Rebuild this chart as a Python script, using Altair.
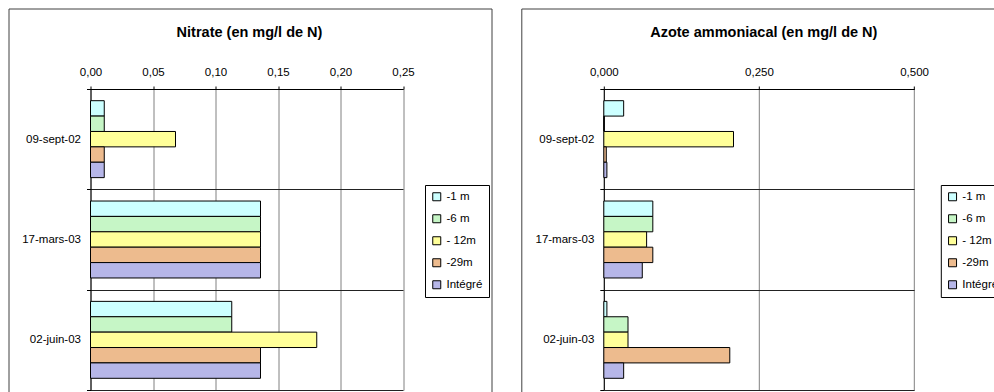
import altair as alt
import pandas as pd

FONT = "Liberation Sans"

# Sampling dates (categories) and depths (series)
dates = ["09-sept-02", "17-mars-03", "02-juin-03"]
depths = ["-1 m", "-6 m", "- 12m", "-29m", "Intégré"]
fills = ["#CCFFFF", "#C6F6C6", "#FFFF99", "#EDBB8E", "#B6B6E8"]

# Nitrate (mg/l de N), one list per depth, in date order
nitrate_1m = [0.011, 0.136, 0.113]
nitrate_6m = [0.011, 0.136, 0.113]
nitrate_12m = [0.068, 0.136, 0.181]
nitrate_29m = [0.011, 0.136, 0.136]
nitrate_int = [0.011, 0.136, 0.136]

# Azote ammoniacal (mg/l de N)
ammo_1m = [0.032, 0.079, 0.005]
ammo_6m = [0.0, 0.079, 0.039]
ammo_12m = [0.209, 0.069, 0.039]
ammo_29m = [0.004, 0.079, 0.203]
ammo_int = [0.005, 0.062, 0.032]

nitrate_ticks = [0, 0.05, 0.10, 0.15, 0.20, 0.25]
ammo_ticks = [0, 0.25, 0.5]


def to_frame(series):
    rows = []
    for depth, vals in zip(depths, series):
        for d, v in zip(dates, vals):
            rows.append({"date": d, "depth": depth, "value": v})
    return pd.DataFrame(rows)


nitrate_df = to_frame([nitrate_1m, nitrate_6m, nitrate_12m, nitrate_29m, nitrate_int])
ammo_df = to_frame([ammo_1m, ammo_6m, ammo_12m, ammo_29m, ammo_int])

PLOT_H = 301
LABEL_SIZE = 11.5
PAGE_W, PAGE_H = 994, 392
# origin of the first plot area on the page
PAD_LEFT, PAD_TOP = 90.5, 89


def panel(df, title, x_max, ticks, decimals, width, frame_left, title_x, legend_x):
    label_expr = f"replace(format(datum.value, '.{decimals}f'), '.', ',')"

    bars = alt.Chart(df).mark_bar(stroke="black", strokeWidth=1).encode(
        x=alt.X(
            "value:Q",
            scale=alt.Scale(domain=[0, x_max], nice=False, zero=True),
            axis=alt.Axis(
                orient="top", values=ticks, labelExpr=label_expr, title=None,
                grid=True, gridColor="#808080", gridWidth=1,
                domainColor="black", tickColor="black", tickSize=3,
                labelPadding=9, labelFontSize=LABEL_SIZE, labelFont=FONT,
                labelColor="black", labelFlush=False, labelOverlap=False,
            ),
        ),
        y=alt.Y(
            "date:N",
            scale=alt.Scale(domain=dates, paddingInner=0, paddingOuter=0),
            axis=alt.Axis(
                title=None, tickBand="extent", grid=True, gridColor="#222222",
                domainColor="black", tickColor="black", tickSize=4,
                labelPadding=6, labelFontSize=LABEL_SIZE, labelFont=FONT,
                labelColor="black",
            ),
        ),
        yOffset=alt.YOffset(
            "depth:N",
            scale=alt.Scale(domain=depths, paddingInner=0, paddingOuter=0.76),
        ),
        color=alt.Color(
            "depth:N",
            scale=alt.Scale(domain=depths, range=fills),
            legend=alt.Legend(
                title=None, orient="none", legendX=legend_x, legendY=96,
                direction="vertical",
                symbolType="square", symbolSize=64, symbolStrokeColor="black",
                symbolStrokeWidth=1, symbolOpacity=1,
                labelFont=FONT, labelFontSize=LABEL_SIZE, labelColor="black",
                labelOffset=4, rowPadding=9, padding=6,
                strokeColor="black", fillColor="white",
                labelExpr="datum.label == '-29m' ? '\u00a0-29m' : datum.label",
            ),
        ),
    )

    frame = alt.Chart(pd.DataFrame({"f": [0]})).mark_rect(
        fillOpacity=0, stroke="#404040", strokeWidth=1
    ).encode(
        x=alt.value(frame_left), x2=alt.value(frame_left + 483),
        y=alt.value(-80), y2=alt.value(315),
    )

    heading = alt.Chart(pd.DataFrame({"t": [title]})).mark_text(
        font=FONT, fontSize=14.5, fontWeight="bold", align="center",
        baseline="alphabetic", color="black",
    ).encode(text="t:N", x=alt.value(title_x), y=alt.value(-52.5))

    return alt.layer(frame, bars, heading).properties(width=width, height=PLOT_H)


left = panel(nitrate_df, "Nitrate (en mg/l de N)", 0.25, nitrate_ticks, 2,
             312.5, -81.5, 159, 334.5)
right = panel(ammo_df, "Azote ammoniacal (en mg/l de N)", 0.5, ammo_ticks, 3,
              310.3, -82, 160, 337)

# Fixed page-sized canvas: anything running past the right/bottom edge is cut
chart = alt.hconcat(left, right, spacing=28.3).resolve_scale(
    x="independent", y="independent", color="independent", yOffset="independent"
).resolve_legend(color="independent").properties(
    autosize=alt.AutoSizeParams(type="none"),
    padding={"left": PAD_LEFT, "top": PAD_TOP,
             "right": PAGE_W - PAD_LEFT, "bottom": PAGE_H - PAD_TOP},
    background="white",
).configure_view(strokeWidth=0)

chart.save("out.html", embed_options={"renderer": "svg", "actions": False})
